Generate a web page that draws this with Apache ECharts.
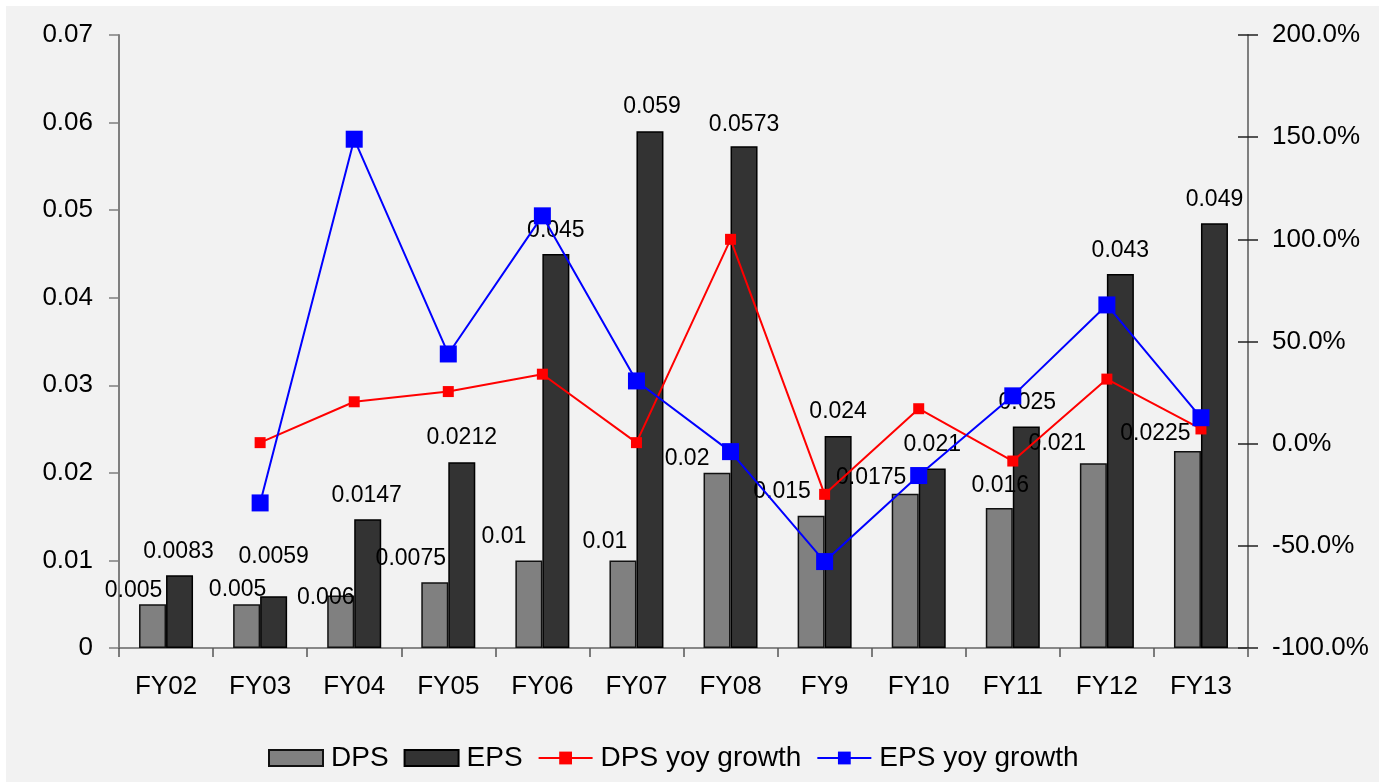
<!DOCTYPE html>
<html>
<head>
<meta charset="utf-8">
<script src="https://cdn.jsdelivr.net/npm/echarts@6/dist/echarts.min.js"></script>
<style>
  html, body { margin: 0; padding: 0; background: #ffffff; }
  #chart { position: absolute; left: 6px; top: 6px; width: 1373px; height: 776px; }
</style>
</head>
<body>
<div id="chart"></div>
<script>
const categories = ['FY02','FY03','FY04','FY05','FY06','FY07','FY08','FY9','FY10','FY11','FY12','FY13'];
const dps = [0.005, 0.005, 0.006, 0.0075, 0.01, 0.01, 0.02, 0.0151, 0.0176, 0.016, 0.0211, 0.0225];
const eps = [0.0083, 0.0059, 0.0147, 0.0212, 0.045, 0.059, 0.0573, 0.0242, 0.0205, 0.0253, 0.0427, 0.0485];
const dpsLabels = ['0.005','0.005','0.006','0.0075','0.01','0.01','0.02','0.015','0.0175','0.016','0.021','0.0225'];
const epsLabels = ['0.0083','0.0059','0.0147','0.0212','0.045','0.059','0.0573','0.024','0.021','0.025','0.043','0.049'];
const dpsGrowth = [null, 0.5, 20.5, 25.5, 34, 0.5, 100, -24.8, 17.1, -8.5, 31.6, 7.2];
const epsGrowth = [null, -29, 149, 43.9, 111.5, 30.7, -3.9, -57.7, -15.6, 23.4, 67.9, 12.7];
const leftTicks = ['0','0.01','0.02','0.03','0.04','0.05','0.06','0.07'];
const rightTicks = ['-100.0%','-50.0%','0.0%','50.0%','100.0%','150.0%','200.0%'];

// label placement tweaks (pixels), mimicking the hand-moved labels of the original
const dpsLabelShift = [[-19,10],[-9,9],[-15,26],[-24,0],[-25,0],[-18,5],[-30,9],[-29,-1],[-34,7],[1,1],[-36,4],[-32,6]];
const epsLabelShift = [[-1,0],[0,-16],[-1,0],[0,-1],[0,0],[2,-1],[0,2],[0,-1],[0,0],[1,0],[0,0],[0,0]];

const FONT = "'Liberation Sans', Arial, sans-serif";
const chart = echarts.init(document.getElementById('chart'));

const barLabel = { show: true, position: 'top', distance: 12, fontSize: 23, color: '#000', fontFamily: FONT };

chart.setOption({
  backgroundColor: '#f2f2f2',
  animation: false,
  textStyle: { fontFamily: FONT },
  grid: { left: 113, right: 131, top: 29, bottom: 134, containLabel: false },
  legend: {
    left: 257, top: 733,
    itemWidth: 54, itemHeight: 16, itemGap: 15,
    textStyle: { fontSize: 28, color: '#000', fontFamily: FONT, padding: [0,0,0,3] },
    data: [
      { name: 'DPS', icon: 'rect' },
      { name: 'EPS', icon: 'rect' },
      { name: 'DPS yoy growth' },
      { name: 'EPS yoy growth' }
    ]
  },
  xAxis: {
    type: 'category',
    data: categories,
    boundaryGap: true,
    axisLine: { lineStyle: { color: '#666', width: 1.5 } },
    axisTick: { show: true, length: 9, lineStyle: { color: '#555', width: 1.5 } },
    axisLabel: { fontSize: 26, color: '#000', margin: 26, fontFamily: FONT }
  },
  yAxis: [
    {
      type: 'value', position: 'left', min: 0, max: 0.07, interval: 0.01,
      axisLine: { show: true, lineStyle: { color: '#7f7f7f', width: 2 } },
      axisTick: { show: true, length: 10, lineStyle: { color: '#7f7f7f', width: 1.5 } },
      splitLine: { show: false },
      axisLabel: { fontSize: 26, color: '#000', margin: 26, fontFamily: FONT,
        formatter: v => leftTicks[Math.round(v / 0.01)] }
    },
    {
      type: 'value', position: 'right', min: -100, max: 200, interval: 50,
      axisLine: { show: true, lineStyle: { color: '#7f7f7f', width: 2 } },
      axisTick: { show: true, length: 10, lineStyle: { color: '#222', width: 1.5 } },
      splitLine: { show: false },
      axisLabel: { fontSize: 26, color: '#000', margin: 24, fontFamily: FONT,
        formatter: v => rightTicks[Math.round((v + 100) / 50)] }
    },
    {
      type: 'value', position: 'right', min: -100, max: 200, interval: 50,
      axisLine: { show: false },
      axisTick: { show: true, inside: true, length: 10, lineStyle: { color: '#222', width: 1.5 } },
      splitLine: { show: false },
      axisLabel: { show: false }
    }
  ],
  series: [
    {
      name: 'DPS', type: 'bar', yAxisIndex: 0, barWidth: 27, barGap: '0%',
      itemStyle: { color: '#808080', borderColor: '#111', borderWidth: 1.5 },
      label: Object.assign({}, barLabel, { formatter: p => dpsLabels[p.dataIndex] }),
      data: dps.map((v, i) => ({ value: v, label: { offset: dpsLabelShift[i] } }))
    },
    {
      name: 'EPS', type: 'bar', yAxisIndex: 0, barWidth: 27, barGap: '0%',
      itemStyle: { color: '#333333', borderColor: '#000', borderWidth: 1.5 },
      label: Object.assign({}, barLabel, { formatter: p => epsLabels[p.dataIndex] }),
      data: eps.map((v, i) => ({ value: v, label: { offset: epsLabelShift[i] } }))
    },
    {
      name: 'DPS yoy growth', type: 'line', yAxisIndex: 1, z: 5,
      symbol: 'rect', symbolSize: 11,
      lineStyle: { color: '#ff0000', width: 2 },
      itemStyle: { color: '#ff0000' },
      data: dpsGrowth.map(v => v === null ? '-' : v)
    },
    {
      name: 'EPS yoy growth', type: 'line', yAxisIndex: 1, z: 6,
      symbol: 'rect', symbolSize: 17,
      lineStyle: { color: '#0000ff', width: 2 },
      itemStyle: { color: '#0000ff' },
      data: epsGrowth.map(v => v === null ? '-' : v)
    }
  ]
});
</script>
</body>
</html>
